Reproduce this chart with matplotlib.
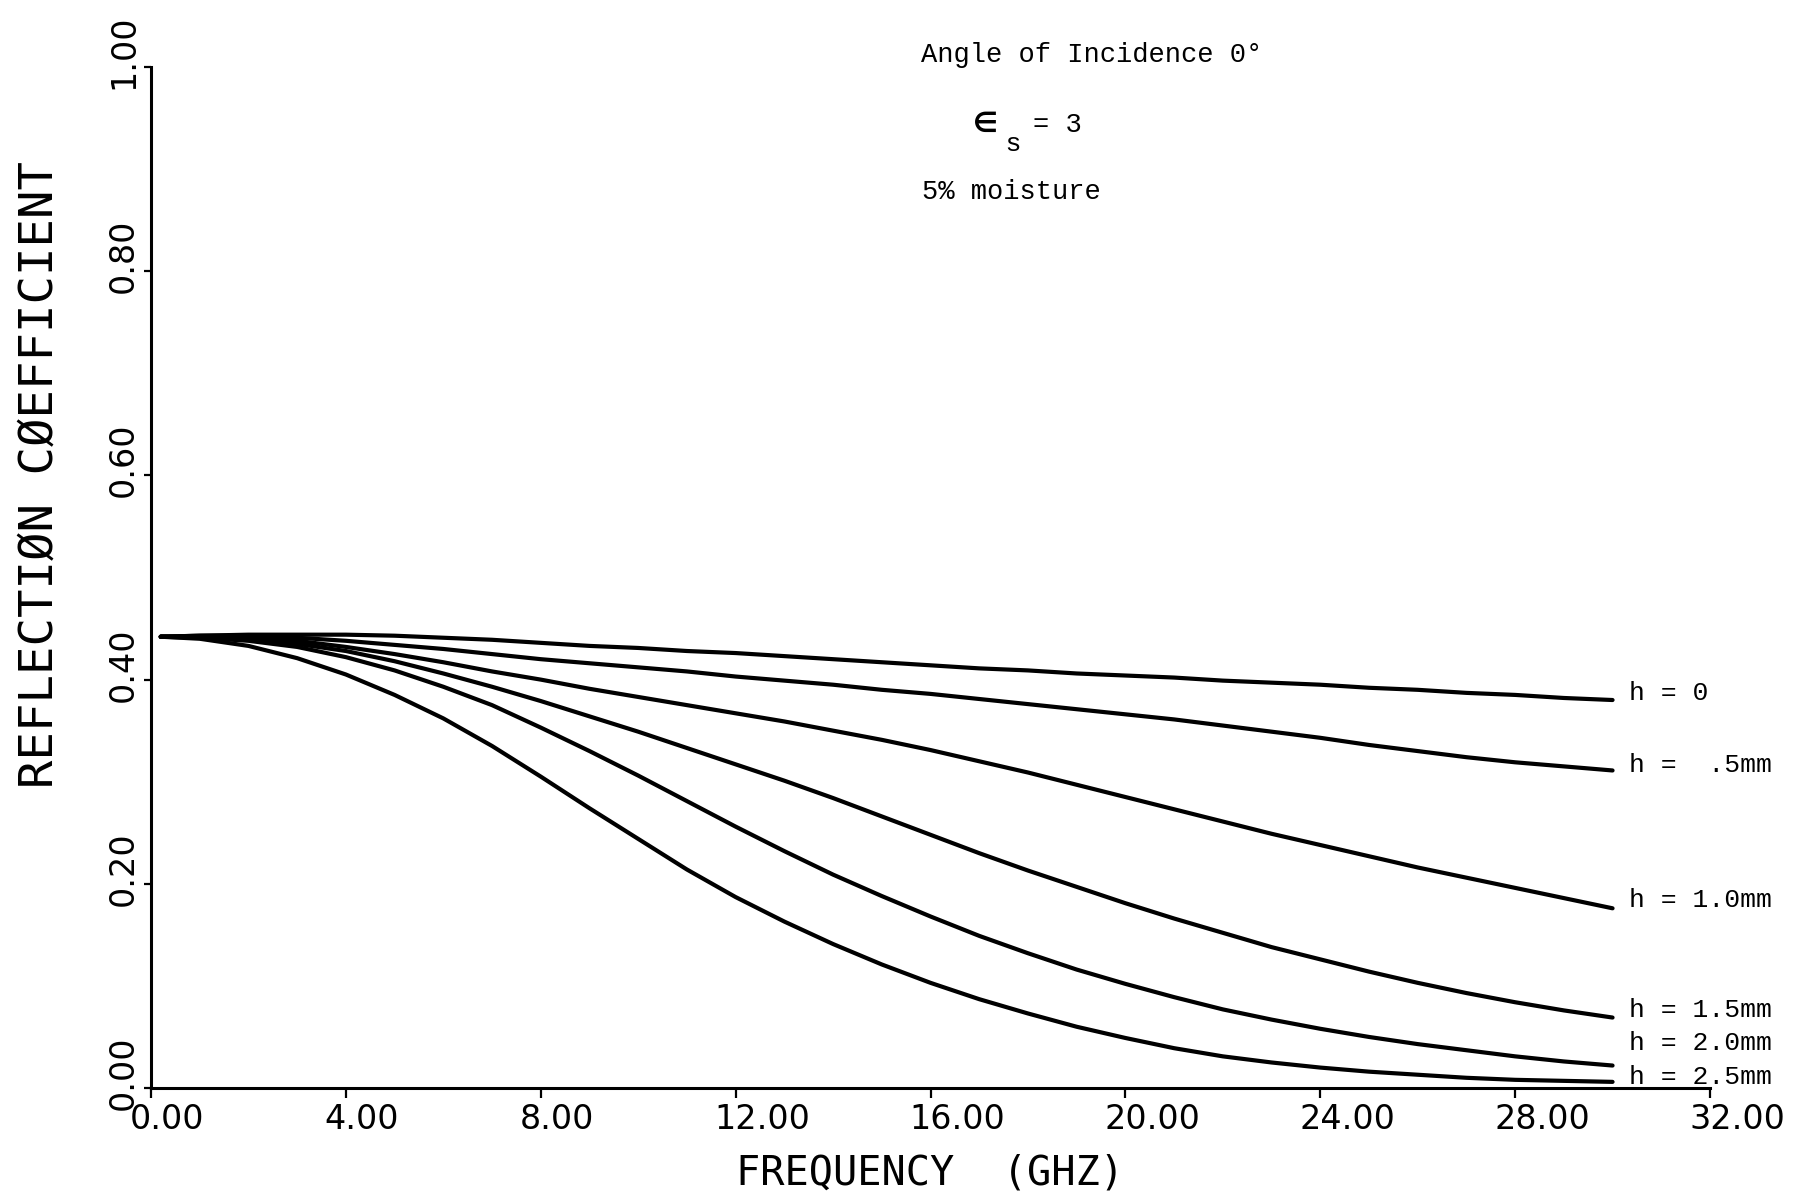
import matplotlib
matplotlib.use("Agg")
import matplotlib.pyplot as plt
from matplotlib.transforms import ScaledTranslation

# Frequency grid (GHz) and reflection coefficient for each layer thickness h
freq = [0.2, 1, 2, 3, 4, 5, 6, 7, 8, 9, 10, 11, 12, 13, 14, 15,
        16, 17, 18, 19, 20, 21, 22, 23, 24, 25, 26, 27, 28, 29, 30]

refl_h00 = [0.442, 0.443, 0.444, 0.444, 0.444, 0.443, 0.441, 0.439, 0.436, 0.433,
            0.431, 0.428, 0.426, 0.423, 0.420, 0.417, 0.414, 0.411, 0.409, 0.406,
            0.404, 0.402, 0.399, 0.397, 0.395, 0.392, 0.390, 0.387, 0.385, 0.382, 0.380]
refl_h05 = [0.442, 0.443, 0.443, 0.441, 0.438, 0.434, 0.430, 0.425, 0.420, 0.416,
            0.412, 0.408, 0.403, 0.399, 0.395, 0.390, 0.386, 0.381, 0.376, 0.371,
            0.366, 0.361, 0.355, 0.349, 0.343, 0.336, 0.330, 0.324, 0.319, 0.315, 0.311]
refl_h10 = [0.442, 0.442, 0.441, 0.438, 0.432, 0.425, 0.417, 0.408, 0.400, 0.391,
            0.383, 0.375, 0.367, 0.359, 0.350, 0.341, 0.331, 0.320, 0.309, 0.297,
            0.285, 0.273, 0.261, 0.249, 0.238, 0.227, 0.216, 0.206, 0.196, 0.186, 0.176]
refl_h15 = [0.442, 0.442, 0.440, 0.435, 0.428, 0.418, 0.406, 0.393, 0.379, 0.364,
            0.349, 0.333, 0.317, 0.301, 0.284, 0.266, 0.248, 0.230, 0.213, 0.197,
            0.181, 0.166, 0.152, 0.138, 0.126, 0.114, 0.103, 0.093, 0.084, 0.076, 0.069]
refl_h20 = [0.442, 0.441, 0.438, 0.432, 0.422, 0.409, 0.393, 0.375, 0.353, 0.330,
            0.306, 0.281, 0.256, 0.232, 0.209, 0.188, 0.168, 0.149, 0.132, 0.116,
            0.102, 0.089, 0.077, 0.067, 0.058, 0.050, 0.043, 0.037, 0.031, 0.026, 0.022]
refl_h25 = [0.442, 0.440, 0.433, 0.421, 0.405, 0.385, 0.362, 0.335, 0.305, 0.274,
            0.244, 0.214, 0.187, 0.163, 0.141, 0.121, 0.103, 0.087, 0.073, 0.060,
            0.049, 0.039, 0.031, 0.025, 0.020, 0.016, 0.013, 0.010, 0.008, 0.007, 0.006]

series = [refl_h00, refl_h05, refl_h10, refl_h15, refl_h20, refl_h25]
series_labels = ["h = 0", "h =  .5mm", "h = 1.0mm", "h = 1.5mm", "h = 2.0mm", "h = 2.5mm"]
label_shift_px = [7, 5, 8, 7.5, 22.5, 5]   # vertical nudge of each end label

xticks = [0, 4, 8, 12, 16, 20, 24, 28, 32]
xtick_labels = ["0.00", "4.00", "8.00", "12.00", "16.00", "20.00", "24.00", "28.00", "32.00"]
yticks = [0.0, 0.2, 0.4, 0.6, 0.8, 1.0]
ytick_labels = ["0.00", "0.20", "0.40", "0.60", "0.80", "1.00"]

W, H, DPI = 1814, 1198, 100
TICK_FONT = "DejaVu Sans"
TITLE_FONT = "DejaVu Sans Mono"
TYPE_FONT = "Liberation Mono"

fig = plt.figure(figsize=(W / DPI, H / DPI), dpi=DPI)
fig.patch.set_facecolor("white")
ax = fig.add_axes([151 / W, 110 / H, 1559 / W, 1021 / H])

for vals in series:
    ax.plot(freq, vals, color="black", lw=3.0,
            solid_capstyle="round", solid_joinstyle="round")

ax.set_xlim(0, 32)
ax.set_ylim(0, 1)
for side in ("top", "right"):
    ax.spines[side].set_visible(False)
for side in ("left", "bottom"):
    ax.spines[side].set_linewidth(2.2)

ax.set_xticks(xticks)
ax.set_xticklabels(xtick_labels, fontfamily=TICK_FONT, fontsize=24)
ax.set_yticks(yticks)
ax.set_yticklabels(ytick_labels, fontfamily=TICK_FONT, fontsize=24)
ax.tick_params(axis="x", direction="out", length=7, width=1.6, pad=4)
ax.tick_params(axis="y", direction="out", length=5, width=1.6, pad=8)

# plotter-style labels: text starts a little before the tick
shift_x = ScaledTranslation(-21 / DPI, 0, fig.dpi_scale_trans)
for lbl in ax.get_xticklabels():
    lbl.set_ha("left")
    lbl.set_transform(lbl.get_transform() + shift_x)
shift_y = ScaledTranslation(0, -22 / DPI, fig.dpi_scale_trans)
for lbl in ax.get_yticklabels():
    lbl.set_rotation(90)
    lbl.set_rotation_mode("anchor")
    lbl.set_ha("left")
    lbl.set_va("baseline")
    lbl.set_transform(lbl.get_transform() + shift_y)

ax.set_xlabel("FREQUENCY  (GHZ)", fontfamily=TITLE_FONT, fontsize=29)
ax.xaxis.label.set_va("center")
ax.xaxis.set_label_coords(0.5, (1088 - 1174) / 1021)
ax.set_ylabel("REFLECTIØN CØEFFICIENT", fontfamily=TITLE_FONT, fontsize=34)
ax.yaxis.label.set_va("center")
ax.yaxis.set_label_coords((40 - 151) / 1559, (1088 - 474) / 1021)

# curve end labels
for vals, text, dy in zip(series, series_labels, label_shift_px):
    ax.annotate(text, xy=(freq[-1], vals[-1]), xytext=(16 * 0.72, dy * 0.72),
                textcoords="offset points", ha="left", va="center",
                fontfamily=TYPE_FONT, fontsize=19)


def fig_xy(px, py):
    return px / W, 1 - py / H


fig.text(*fig_xy(921, 55), "Angle of Incidence 0°", ha="left", va="center",
         fontfamily=TYPE_FONT, fontsize=19.5)
fig.text(*fig_xy(973, 124), "∈", ha="left", va="center",
         fontfamily="DejaVu Sans", fontweight="bold", fontsize=20)
fig.text(*fig_xy(1006, 144), "s", ha="left", va="center",
         fontfamily="Liberation Sans", fontsize=19)
fig.text(*fig_xy(1033, 125), "= 3", ha="left", va="center",
         fontfamily=TYPE_FONT, fontsize=19.5)
fig.text(*fig_xy(922, 192), "5% moisture", ha="left", va="center",
         fontfamily=TYPE_FONT, fontsize=19.5)

fig.savefig("out.png", dpi=DPI, facecolor="white")
